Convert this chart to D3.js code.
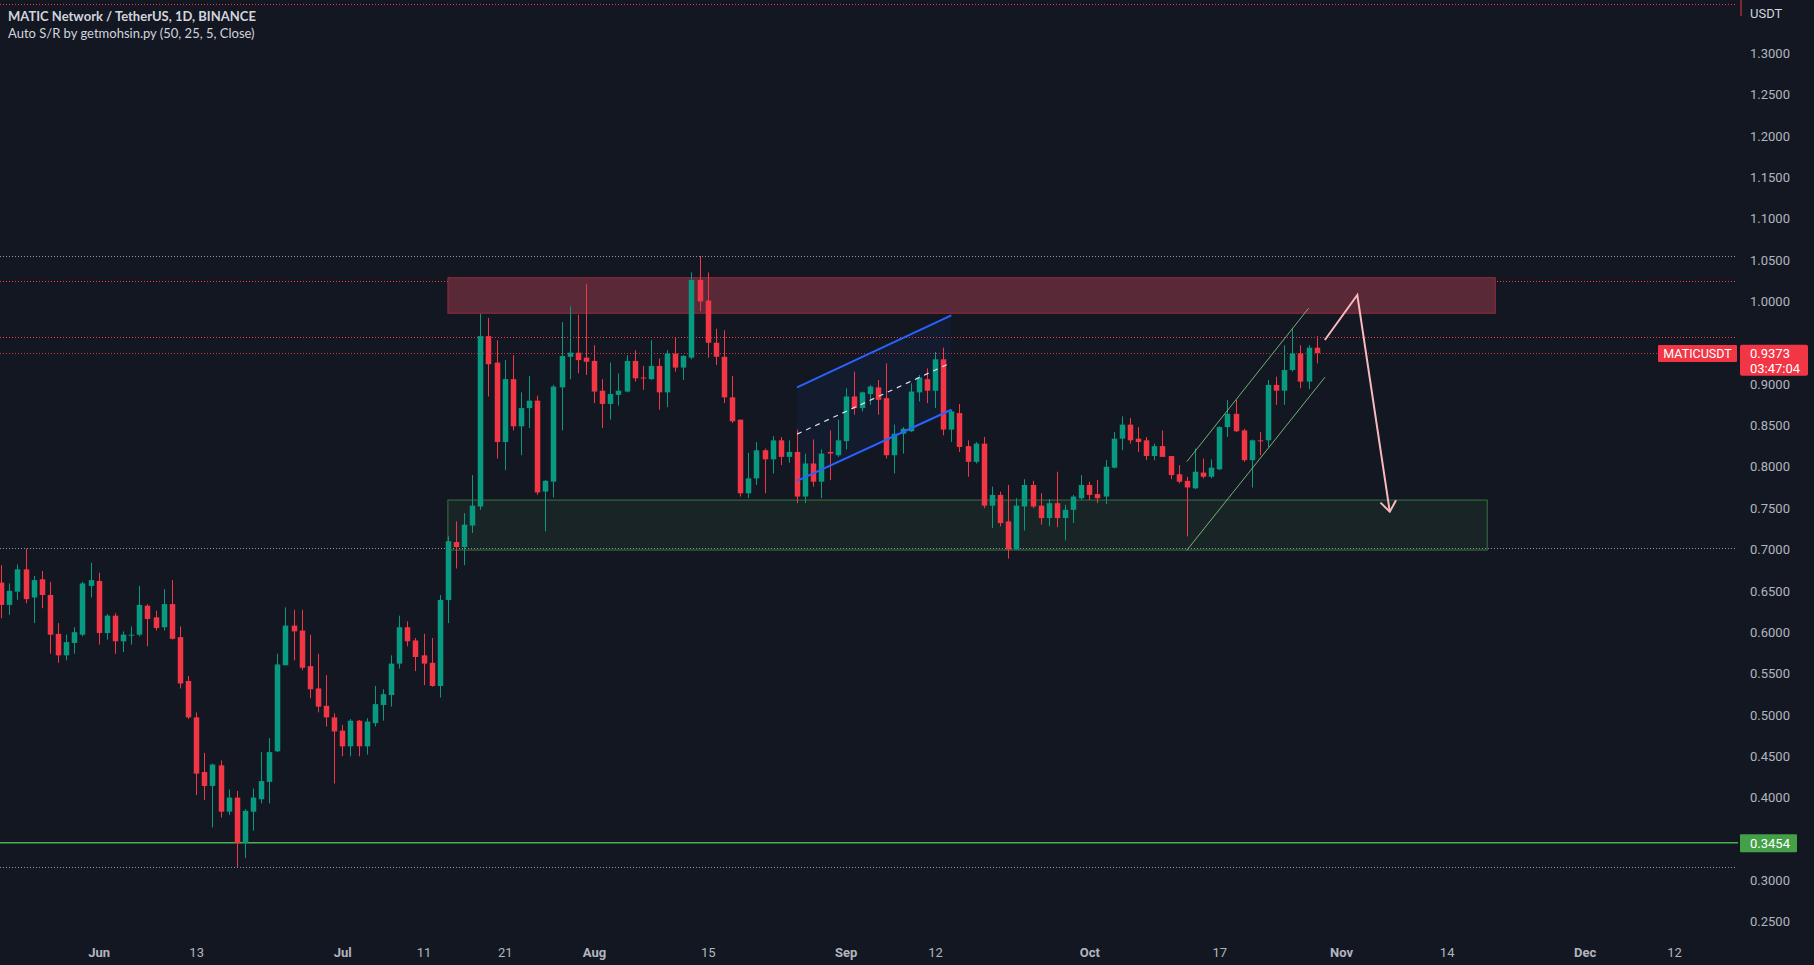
<!DOCTYPE html>
<html><head><meta charset="utf-8">
<script src="https://cdn.jsdelivr.net/npm/d3@7/dist/d3.min.js"></script>
<style>
html,body{margin:0;padding:0;background:#131722;}
svg{display:block;}
</style></head>
<body>
<svg id="chart" width="1814" height="965"></svg>
<script>
// ---------- DATA ----------
const startDate = "2022-05-20"; // first daily candle, consecutive days follow
const opens = [.660,.633,.649,.676,.642,.664,.645,.598,.572,.587,.597,.656,.662,.599,.620,.589,.596,.597,.632,.618,.606,.634,.594,.541,.497,.431,.414,.439,.383,.400,.345,.383,.398,.419,.456,.560,.608,.602,.559,.532,.511,.497,.481,.462,.493,.462,.490,.512,.524,.562,.606,.590,.572,.563,.535,.639,.709,.703,.729,.752,.958,.926,.830,.906,.849,.871,.880,.770,.782,.896,.933,.938,.932,.928,.892,.876,.887,.891,.928,.908,.906,.922,.890,.937,.920,.932,1.026,1.001,.950,.933,.884,.857,.768,.786,.820,.809,.832,.812,.818,.764,.804,.782,.818,.814,.831,.885,.871,.888,.896,.883,.814,.840,.843,.890,.906,.892,.930,.845,.865,.825,.806,.828,.753,.766,.734,.700,.752,.778,.753,.738,.756,.738,.748,.762,.778,.767,.764,.799,.834,.851,.834,.832,.813,.825,.813,.791,.783,.774,.793,.788,.797,.848,.864,.844,.808,.832,.832,.899,.892,.917,.937,.903,.944];
const highs = [.681,.659,.682,.701,.668,.674,.661,.611,.597,.606,.661,.684,.672,.622,.623,.601,.607,.656,.634,.626,.652,.663,.607,.547,.503,.454,.441,.445,.410,.408,.386,.411,.455,.472,.574,.630,.627,.627,.597,.574,.548,.502,.488,.495,.494,.496,.535,.531,.572,.620,.613,.593,.598,.593,.645,.716,.734,.744,.790,.985,.980,.953,.929,.935,.890,.910,.886,.784,.899,.975,.994,.984,1.021,.947,.906,.926,.913,.935,.941,.922,.953,.931,.941,.957,.935,1.035,1.055,1.035,.967,.965,.910,.857,.817,.830,.822,.837,.836,.832,.845,.816,.833,.821,.844,.857,.895,.915,.891,.899,.905,.925,.851,.848,.901,.911,.919,.939,.944,.869,.876,.832,.830,.836,.776,.770,.778,.762,.785,.783,.768,.761,.794,.754,.766,.790,.782,.784,.808,.842,.861,.859,.848,.836,.828,.844,.813,.802,.788,.822,.810,.809,.849,.881,.881,.846,.833,.842,.905,.909,.947,.967,.947,.947,.958];
const lows = [.617,.621,.639,.635,.611,.629,.574,.563,.566,.574,.595,.642,.585,.591,.574,.576,.585,.595,.583,.602,.602,.591,.532,.495,.403,.397,.364,.376,.379,.316,.327,.360,.393,.393,.455,.560,.566,.554,.520,.503,.486,.417,.450,.450,.450,.452,.486,.493,.510,.556,.583,.553,.536,.534,.521,.611,.677,.681,.720,.748,.885,.810,.796,.844,.814,.847,.766,.722,.763,.844,.906,.913,.911,.877,.847,.857,.874,.890,.903,.893,.905,.869,.872,.915,.905,.930,.988,.932,.923,.877,.853,.764,.762,.778,.768,.792,.802,.805,.756,.756,.776,.762,.784,.812,.821,.863,.867,.875,.863,.810,.792,.816,.842,.879,.877,.871,.838,.830,.818,.788,.804,.750,.726,.728,.689,.700,.723,.750,.730,.728,.727,.711,.732,.760,.760,.756,.755,.798,.820,.828,.818,.808,.808,.812,.785,.780,.716,.773,.786,.786,.796,.836,.842,.806,.775,.814,.824,.875,.875,.915,.895,.894,.925];
const closes = [.633,.650,.676,.640,.663,.645,.597,.572,.588,.600,.659,.663,.599,.620,.589,.597,.597,.633,.616,.605,.634,.592,.538,.497,.429,.414,.440,.383,.400,.345,.384,.400,.420,.455,.561,.608,.601,.557,.531,.510,.497,.480,.462,.493,.462,.492,.513,.525,.562,.606,.589,.570,.562,.535,.639,.710,.703,.730,.753,.958,.924,.830,.906,.849,.871,.880,.769,.783,.897,.934,.938,.929,.927,.891,.876,.888,.892,.928,.907,.907,.922,.890,.937,.920,.934,1.026,1.000,.950,.933,.884,.855,.768,.786,.820,.809,.832,.812,.818,.764,.804,.782,.816,.816,.832,.885,.871,.890,.897,.881,.814,.840,.846,.891,.908,.892,.930,.845,.867,.824,.806,.828,.753,.766,.732,.700,.753,.778,.752,.738,.756,.738,.748,.764,.778,.766,.762,.800,.834,.851,.832,.830,.813,.825,.812,.790,.782,.775,.794,.788,.799,.848,.864,.843,.808,.832,.831,.899,.892,.917,.937,.903,.944,.9373];

const yTicks = [0.25,0.30,0.40,0.45,0.50,0.55,0.60,0.65,0.70,0.75,0.80,0.85,0.90,1.00,1.05,1.10,1.15,1.20,1.25,1.30];
const xTickDates = ["2022-06-01","2022-06-13","2022-07-01","2022-07-11","2022-07-21","2022-08-01","2022-08-15","2022-09-01","2022-09-12","2022-10-01","2022-10-17","2022-11-01","2022-11-14","2022-12-01","2022-12-12"];
const xTickLabels = ["Jun","13","Jul","11","21","Aug","15","Sep","12","Oct","17","Nov","14","Dec","12"];

// Auto S/R horizontal levels
const srRed = [1.3596, 1.0247, 0.957];
const srGrey = [1.0549, 0.7013, 0.3166];
const srGreen = [0.3454];
const lastPrice = 0.9373;

// zones: [startDate, endDate, low, high]
const resistanceZone = ["2022-07-14","2022-11-20",0.9856,1.0287];
const supportZone = ["2022-07-14","2022-11-19",0.6993,0.7598];

// drawings (date, price)
const blueUpper = [["2022-08-26",0.896],["2022-09-14",0.983]];
const blueLower = [["2022-08-26",0.783],["2022-09-14",0.869]];
const blueMid   = [["2022-08-26",0.8395],["2022-09-14",0.926]];
const greenUpper = [["2022-10-13",0.8062],["2022-10-28",0.9917]];
const greenLower = [["2022-10-13",0.699],["2022-10-30",0.9082]];
const arrowPath = [["2022-10-30",0.9533],["2022-11-03",1.0077],["2022-11-07",0.7457]];

// ---------- SETUP ----------
const W = 1814, H = 965, plotRight = 1738;
const svg = d3.select("#chart");
svg.append("rect").attr("width",W).attr("height",H).attr("fill","#131722");

const parse = d3.utcParse("%Y-%m-%d");
const day0 = parse(startDate);
const candles = opens.map((o,i)=>({date:d3.utcDay.offset(day0,i),o,h:highs[i],l:lows[i],c:closes[i]}));

const x = d3.scaleUtc().domain([parse("2022-06-01"),parse("2022-12-12")]).range([98.7,1674]);
const y = d3.scaleLinear().domain([0.25,1.3]).range([921.65,53.3]);

const UP = "#089981", DOWN = "#f23645";

const plot = svg.append("g");

function zone(z, fill, stroke){
  plot.append("rect")
    .attr("x", x(parse(z[0]))).attr("width", x(parse(z[1]))-x(parse(z[0])))
    .attr("y", y(z[3])).attr("height", y(z[2])-y(z[3]))
    .attr("fill", fill).attr("stroke", stroke).attr("stroke-width",1);
}

// horizontal S/R lines
srGrey.forEach(v=>{
  plot.append("line").attr("x1",0).attr("x2",plotRight-2).attr("y1",Math.round(y(v))+0.5).attr("y2",Math.round(y(v))+0.5)
    .attr("stroke","#9598a1").attr("stroke-width",1).attr("stroke-dasharray","1 2");
});
srRed.forEach(v=>{
  plot.append("line").attr("x1",0).attr("x2",plotRight-2).attr("y1",Math.round(y(v))+0.5).attr("y2",Math.round(y(v))+0.5)
    .attr("stroke","#f23645").attr("stroke-width",1).attr("stroke-dasharray","1 2");
});
plot.append("line").attr("x1",plotRight+3).attr("x2",plotRight+3).attr("y1",0).attr("y2",16)
  .attr("stroke","#f23645").attr("stroke-width",1);
srGreen.forEach(v=>{
  plot.append("line").attr("x1",0).attr("x2",plotRight).attr("y1",y(v)).attr("y2",y(v))
    .attr("stroke","#4caf50").attr("stroke-width",1.5);
});
plot.append("line").attr("x1",0).attr("x2",plotRight-2).attr("y1",Math.round(y(lastPrice))+0.5).attr("y2",Math.round(y(lastPrice))+0.5)
  .attr("stroke","#f23645").attr("stroke-width",1).attr("stroke-dasharray","1 2").attr("opacity",0.85);

zone(resistanceZone, "#5a2938", "rgba(242,54,69,0.5)");
zone(supportZone, "rgba(76,175,80,0.09)", "rgba(76,175,80,0.6)");

// blue channel fill
const pt = p=>[x(parse(p[0])), y(p[1])];
plot.append("path")
  .attr("d", d3.line()([pt(blueUpper[0]),pt(blueUpper[1]),pt(blueLower[1]),pt(blueLower[0])])+"Z")
  .attr("fill","rgba(41,98,255,0.06)");

// candles
const bw = 5.5;
const cg = plot.append("g");
cg.selectAll("line.wick").data(candles).join("line")
  .attr("x1",d=>Math.round(x(d.date))+0.5).attr("x2",d=>Math.round(x(d.date))+0.5)
  .attr("y1",d=>y(d.h)).attr("y2",d=>y(d.l))
  .attr("stroke",d=>d.c>=d.o?UP:DOWN).attr("stroke-width",1);
cg.selectAll("rect.body").data(candles).join("rect")
  .attr("x",d=>Math.round(x(d.date))+0.5-bw/2).attr("width",bw)
  .attr("y",d=>y(Math.max(d.o,d.c)))
  .attr("height",d=>Math.max(1,Math.abs(y(d.o)-y(d.c))))
  .attr("fill",d=>d.c>=d.o?UP:DOWN);

// blue channel lines
const line = d3.line().x(p=>x(parse(p[0]))).y(p=>y(p[1]));
[blueUpper,blueLower].forEach(l=>plot.append("path").attr("d",line(l)).attr("stroke","#2962ff").attr("stroke-width",2).attr("fill","none"));
plot.append("path").attr("d",line(blueMid)).attr("stroke","#e0e3eb").attr("stroke-width",1.2).attr("stroke-dasharray","5 5").attr("fill","none");

// green channel
[greenUpper,greenLower].forEach(l=>plot.append("path").attr("d",line(l)).attr("stroke","#7cc17f").attr("stroke-width",1).attr("fill","none").attr("opacity",0.9));

// pink arrow
const ap = "#f7b9bd";
plot.append("path").attr("d",line(arrowPath)).attr("stroke",ap).attr("stroke-width",2).attr("fill","none").attr("stroke-linejoin","miter");
{
  const a = pt(arrowPath[1]), b = pt(arrowPath[2]);
  const ang = Math.atan2(b[1]-a[1], b[0]-a[0]);
  const L = 13, spread = 0.65;
  const p1 = [b[0]-L*Math.cos(ang-spread), b[1]-L*Math.sin(ang-spread)];
  const p2 = [b[0]-L*Math.cos(ang+spread), b[1]-L*Math.sin(ang+spread)];
  plot.append("path").attr("d",d3.line()([p1,b,p2])).attr("stroke",ap).attr("stroke-width",2).attr("fill","none");
}

// ---------- AXES ----------
const axisFont = "Roboto, 'Noto Sans', sans-serif";
const yAxis = svg.append("g").attr("transform",`translate(${plotRight+12},0)`)
  .call(d3.axisRight(y).tickValues(yTicks).tickFormat(d3.format(".4f")).tickSize(0).tickPadding(0));
yAxis.select(".domain").remove();
yAxis.selectAll("text").attr("fill","#b2b5be").attr("font-size",13).attr("font-family",axisFont);

svg.append("text").attr("x",plotRight+12).attr("y",18).text("USDT")
  .attr("fill","#d1d4dc").attr("font-size",13).attr("font-family",axisFont);

const xAxis = svg.append("g").attr("transform","translate(0,948)")
  .call(d3.axisBottom(x).tickValues(xTickDates.map(parse)).tickFormat((d,i)=>xTickLabels[i]).tickSize(0).tickPadding(0));
xAxis.select(".domain").remove();
xAxis.selectAll("text").attr("fill","#b2b5be").attr("font-size",13).attr("font-family",axisFont)
  .attr("font-weight",(d,i)=>isNaN(+xTickLabels[i])?700:400);

// ---------- LABELS ----------
svg.append("rect").attr("x",1658).attr("y",345).attr("width",79).attr("height",17).attr("fill","#f23645").attr("rx",1);
svg.append("text").attr("x",1697.5).attr("y",358).attr("text-anchor","middle").text("MATICUSDT")
  .attr("fill","#ffffff").attr("font-size",12.5).attr("font-family",axisFont);
svg.append("rect").attr("x",1740).attr("y",y(lastPrice)-8.5).attr("width",68).attr("height",31).attr("fill","#f23645").attr("rx",2);
svg.append("text").attr("x",1750).attr("y",y(lastPrice)+5).text(d3.format(".4f")(lastPrice))
  .attr("fill","#ffffff").attr("font-size",13).attr("font-family",axisFont);
svg.append("text").attr("x",1750).attr("y",y(lastPrice)+20).text("03:47:04")
  .attr("fill","#ffffff").attr("font-size",13).attr("font-family",axisFont);
svg.append("rect").attr("x",1740).attr("y",y(srGreen[0])-8.5).attr("width",57).attr("height",18).attr("fill","#43a047").attr("rx",1);
svg.append("text").attr("x",1750).attr("y",y(srGreen[0])+5).text(d3.format(".4f")(srGreen[0]))
  .attr("fill","#ffffff").attr("font-size",13).attr("font-family",axisFont);

// title
svg.append("text").attr("x",8).attr("y",21).text("MATIC Network / TetherUS, 1D, BINANCE")
  .attr("fill","#d1d4dc").attr("font-size",13).attr("font-weight",700).attr("font-family","Lato, 'Noto Sans', sans-serif");
svg.append("text").attr("x",8).attr("y",38).text("Auto S/R by getmohsin.py (50, 25, 5, Close)")
  .attr("fill","#d1d4dc").attr("font-size",13).attr("font-family","Lato, 'Noto Sans', sans-serif");
</script>
</body></html>
